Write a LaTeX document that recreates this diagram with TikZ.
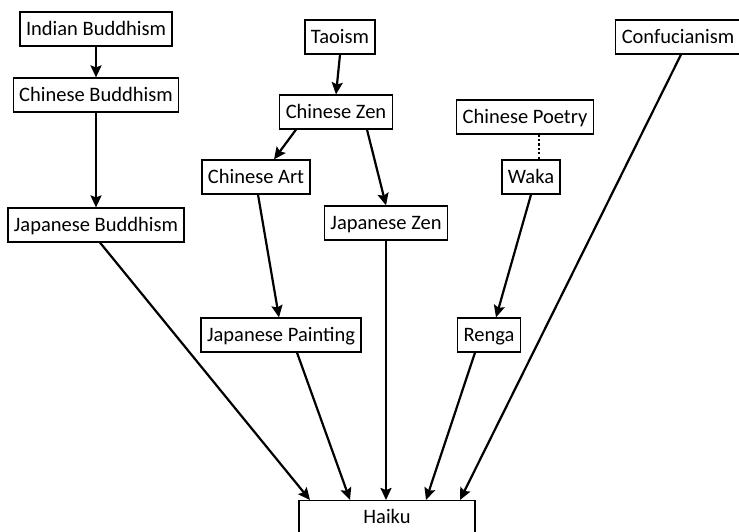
\documentclass[tikz,border=0pt]{standalone}
\usepackage{fontspec}
\setmainfont{Carlito}
\usetikzlibrary{arrows.meta}
\tikzset{
  box/.style={draw, line width=1.2pt, inner xsep=6pt, inner ysep=0pt, minimum height=34pt,
    text height=15.5pt, text depth=2.5pt, font=\fontsize{20.5}{23}\selectfont},
  arr/.style={-{Stealth[length=12pt,width=11pt,inset=2pt]}, line width=2.2pt},
  dotline/.style={line width=2.2pt, dash pattern=on 2.2pt off 2.2pt},
}
\begin{document}
\begin{tikzpicture}[x=1pt,y=-1pt]
\useasboundingbox (0,0) rectangle (739,532);
\node[box] (ib) at (96,29) {Indian Buddhism};
\node[box] (cb) at (96,95) {Chinese Buddhism};
\node[box] (jb) at (96,225) {Japanese Buddhism};
\node[box] (ta) at (340,37) {Taoism};
\node[box] (cz) at (336,112) {Chinese Zen};
\node[box] (ca) at (256,177) {Chinese Art};
\node[box] (jz) at (386,223) {Japanese Zen};
\node[box] (cp) at (525,117) {Chinese Poetry};
\node[box] (wk) at (531,177) {Waka};
\node[box] (cf) at (678,37) {Confucianism};
\node[box] (jp) at (281,335) {Japanese Painting};
\node[box] (rg) at (489,335) {Renga};
\node[box, anchor=north, minimum width=176pt, minimum height=0pt, inner ysep=7pt,
  text depth=24pt] (hk) at (387,500) {Haiku};
\draw[arr] (ib) -- (cb);
\draw[arr] (cb) -- (jb);
\draw[arr] ([xshift=4pt]jb.south) -- ([xshift=-77pt]hk.north);
\draw[arr] ([xshift=0pt]ta.south) -- ([xshift=0pt]cz.north);
\draw[arr] ([xshift=-40pt]cz.south) -- ([xshift=18pt]ca.north);
\draw[arr] ([xshift=31pt]cz.south) -- ([xshift=0pt]jz.north);
\draw[arr] ([xshift=2pt]ca.south) -- ([xshift=-2pt]jp.north);
\draw[arr] ([xshift=16pt]jp.south) -- ([xshift=-37pt]hk.north);
\draw[arr] (jz.south) -- ([xshift=-1pt]hk.north);
\draw[dotline] ([xshift=14pt]cp.south) -- ([xshift=8pt]wk.north);
\draw[arr] (wk.south) -- ([xshift=7pt]rg.north);
\draw[arr] ([xshift=-14pt]rg.south) -- ([xshift=39pt]hk.north);
\draw[arr] ([xshift=3pt]cf.south) -- ([xshift=73pt]hk.north);
\end{tikzpicture}
\end{document}
